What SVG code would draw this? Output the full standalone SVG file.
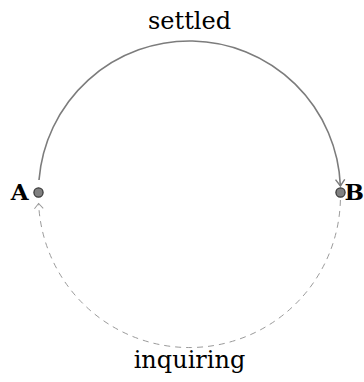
<svg xmlns="http://www.w3.org/2000/svg" width="364" height="382" viewBox="0 0 364 382">
<style>
.node{fill:#808080;stroke:#333333;stroke-width:1.2}
.nlabel{font-family:"DejaVu Serif",serif;font-weight:bold;font-size:23px;fill:#000}
.elabel{font-family:"DejaVu Serif",serif;font-size:24px;fill:#000;text-anchor:middle}
.solid{fill:none;stroke:#7c7c7c;stroke-width:1.6}
.dashed{fill:none;stroke:#9a9a9a;stroke-width:1;stroke-dasharray:6 5}
</style>
<defs>
<marker id="arrS" markerUnits="userSpaceOnUse" markerWidth="14" markerHeight="14" refX="0" refY="0" viewBox="-8 -7 10 14" orient="auto">
<path d="M -6.5 -4.6 L 0 0 L -6.5 4.6" fill="none" stroke="#7c7c7c" stroke-width="1.4"/>
</marker>
<marker id="arrD" markerUnits="userSpaceOnUse" markerWidth="14" markerHeight="14" refX="0" refY="0" viewBox="-8 -7 10 14" orient="auto">
<path d="M -5 -4.4 L 0 0 L -5 4.4" fill="none" stroke="#9a9a9a" stroke-width="1"/>
</marker>
</defs>
<g id="connectors">
<path class="solid" d="M 39 180 A 151 151 0 0 1 340.4 186" marker-end="url(#arrS)"/>
<path class="dashed" d="M 340.4 200 A 151 151 0 0 1 38.6 203.5" marker-end="url(#arrD)"/>
<text class="elabel" x="189.5" y="29">settled</text>
<text class="elabel" x="189.5" y="368">inquiring</text>
</g>
<g id="A">
<circle class="node" cx="38.5" cy="192.5" r="4.6"/>
<text class="nlabel" x="28.5" y="200" text-anchor="end">A</text>
</g>
<g id="B">
<circle class="node" cx="340.5" cy="192.5" r="4.6"/>
<text class="nlabel" x="344.5" y="200">B</text>
</g>
</svg>
